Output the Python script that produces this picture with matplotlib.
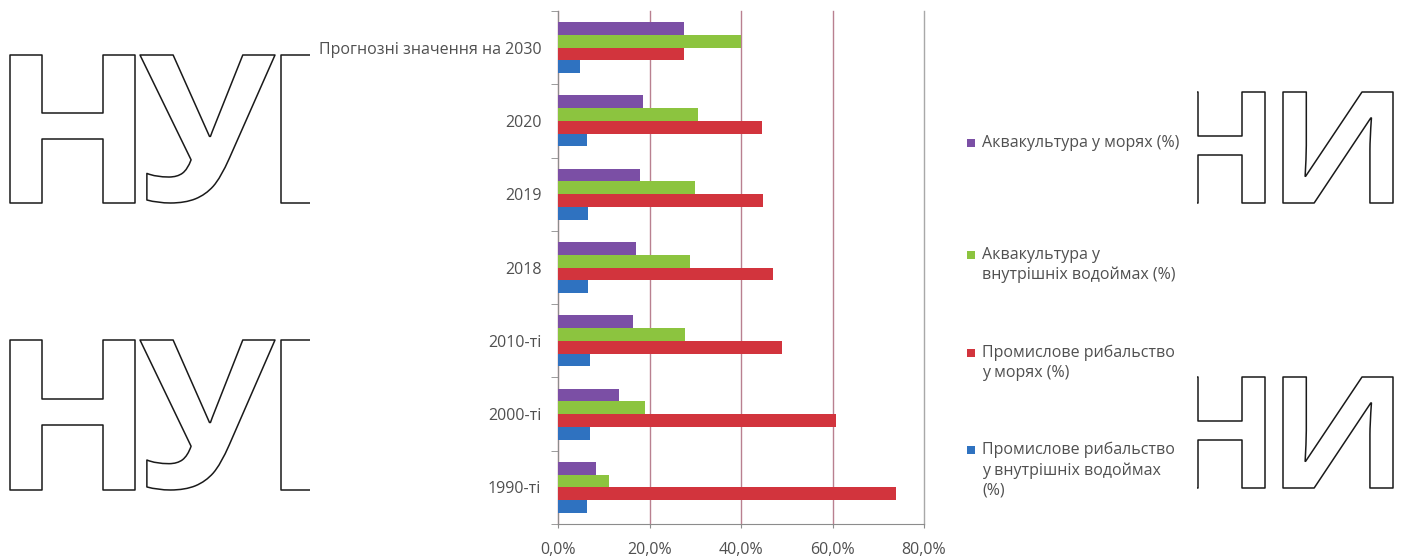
import matplotlib
matplotlib.use("Agg")
import matplotlib.pyplot as plt
import numpy as np
from matplotlib.font_manager import FontProperties
from matplotlib.patches import PathPatch, Rectangle
from matplotlib.textpath import TextPath
from matplotlib.transforms import Affine2D, IdentityTransform
from matplotlib.ticker import FuncFormatter

# categories, top to bottom as shown
categories = ["Прогнозні значення на 2030", "2020", "2019", "2018",
              "2010-ті", "2000-ті", "1990-ті"]

series_labels = [
    "Аквакультура у морях (%)",
    "Аквакультура у\nвнутрішніх водоймах (%)",
    "Промислове рибальство\nу морях (%)",
    "Промислове рибальство\nу внутрішніх водоймах\n(%)",
]
aqua_sea = [27.5, 18.6, 17.9, 17.1, 16.4, 13.3, 8.4]
aqua_inland = [39.9, 30.6, 29.9, 28.8, 27.7, 19.0, 11.2]
fish_sea = [27.5, 44.5, 44.7, 47.0, 49.0, 60.8, 73.9]
fish_inland = [4.9, 6.3, 6.6, 6.6, 6.9, 6.9, 6.3]
series = [aqua_sea, aqua_inland, fish_sea, fish_inland]
colors = ["#7B4FA5", "#8CC43F", "#D2343D", "#2F72C0"]

W, H = 1406, 558
FONT = "Open Sans"
TXT = "#505050"
FS = 11.5

fig = plt.figure(figsize=(W / 100, H / 100), dpi=100)
fig.patch.set_facecolor("white")

wm_prop = FontProperties(family=FONT, weight="bold")


def outline_glyph(ch, top, base, x0=None, x1=None):
    # one big outlined letter of the watermark, fitted to its box in pixels
    path = TextPath((0, 0), ch, size=100, prop=wm_prop)
    ext = path.get_extents()
    sy = (base - top) / ext.height
    sx = (x1 - x0) / ext.width if (x0 is not None and x1 is not None) else sy
    if x0 is not None:
        tx = x0 - ext.x0 * sx
    else:
        tx = x1 - ext.x1 * sx
    tr = Affine2D().scale(sx, sy).translate(tx, H - base - ext.y0 * sy)
    fig.patches.append(PathPatch(tr.transform_path(path), facecolor="white",
                                 edgecolor="#1a1a1a", lw=1.1, joinstyle="round",
                                 transform=IdentityTransform(), figure=fig,
                                 zorder=-3))


for top, base in [(55, 203), (340, 490)]:
    outline_glyph("Н", top, base, 10, 135)
    outline_glyph("У", top, base, 140, 275)
    outline_glyph("Б", top, base, x0=281)
for top, base in [(92, 203), (377, 488)]:
    outline_glyph("Н", top, base, x1=1265)
    outline_glyph("И", top, base, 1283, 1393)

# white area covering the middle of the watermark
fig.patches.append(Rectangle((310, 0), 1197 - 310, H, facecolor="white",
                             edgecolor="none", transform=IdentityTransform(),
                             figure=fig, zorder=-2))

ax = fig.add_axes([558 / W, 1 - 524 / H, (924 - 558) / W, (524 - 11) / H])
ax.set_facecolor("white")

n = len(categories)
y = np.arange(n)[::-1]
h = 0.174
offsets = [1.5 * h, 0.5 * h, -0.5 * h, -1.5 * h]
for vals, off, c in zip(series, offsets, colors):
    ax.barh(y + off, vals, height=h, color=c, edgecolor="none", zorder=3)

ax.set_xlim(0, 80)
ax.set_ylim(-0.5, n - 0.5)
ax.set_xticks([0, 20, 40, 60, 80])
ax.xaxis.set_major_formatter(FuncFormatter(lambda v, p: f"{v:.1f}%".replace(".", ",")))
ax.set_yticks(y)
ax.set_yticklabels(categories)
ax.set_yticks(np.arange(-0.5, n), minor=True)

ax.grid(axis="x", color="#b98090", lw=1, zorder=1)
for gl in ax.get_xgridlines():
    gl.set_clip_on(False)
ax.get_xgridlines()[-1].set_color("#a8a8a8")
for s in ["top", "right"]:
    ax.spines[s].set_visible(False)
for s in ["left", "bottom"]:
    ax.spines[s].set_color("#8c8c8c")

ax.tick_params(axis="y", which="major", length=0, pad=12, labelsize=FS,
               labelcolor=TXT, labelfontfamily=FONT)
ax.tick_params(axis="y", which="minor", length=5, color="#8c8c8c")
ax.tick_params(axis="x", length=3, color="#8c8c8c", pad=10, labelsize=FS,
               labelcolor=TXT, labelfontfamily=FONT)

# legend, laid out like the original
leg_y = [143, 255, 353, 450]
for lab, c, ly in zip(series_labels, colors, leg_y):
    fig.patches.append(Rectangle((967, H - ly - 4), 8, 8, facecolor=c,
                                 edgecolor="none", transform=IdentityTransform(),
                                 figure=fig, zorder=3))
    fig.text(982 / W, 1 - (ly - 8) / H, lab, ha="left", va="top", fontsize=FS,
             color=TXT, family=FONT, linespacing=1.3)

fig.savefig("out.png", dpi=100, facecolor="white")
